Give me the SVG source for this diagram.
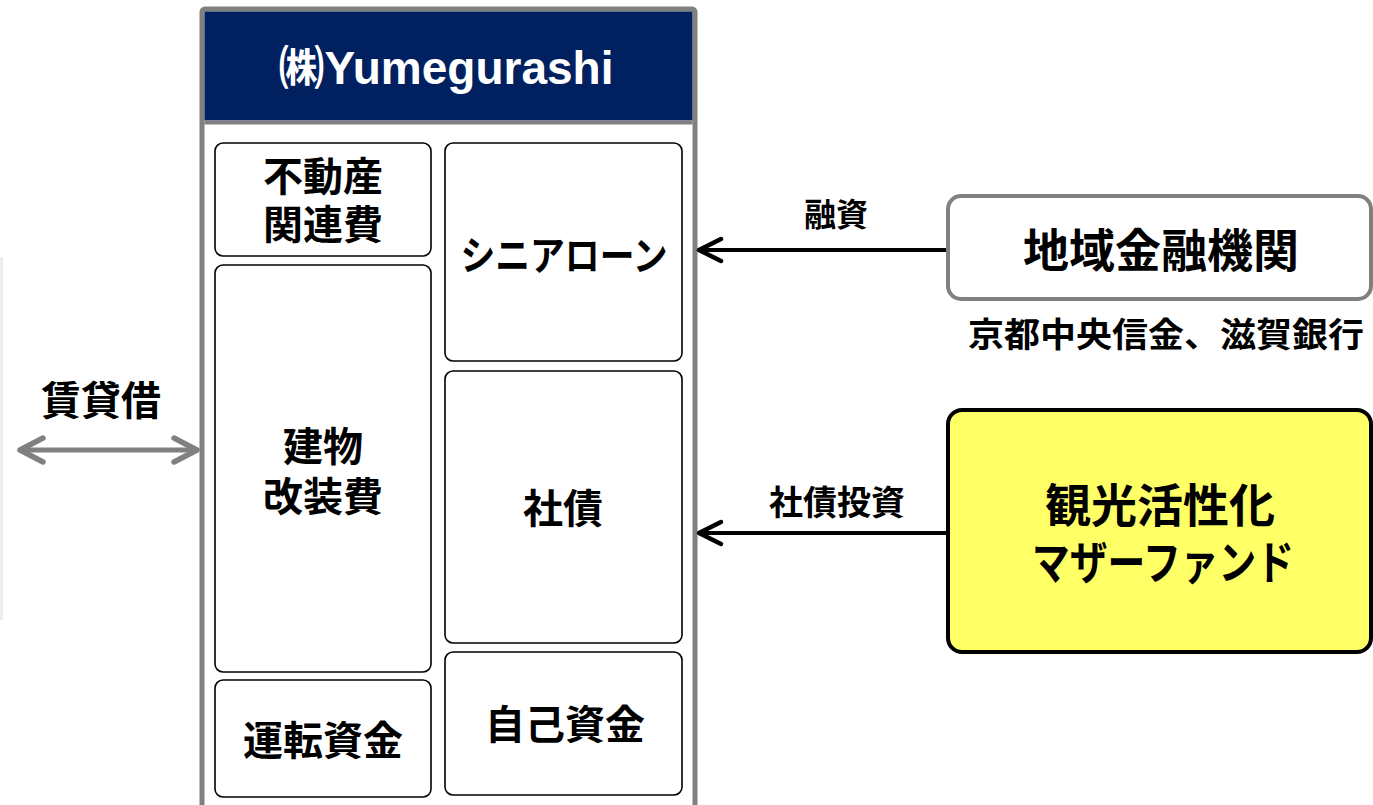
<svg xmlns="http://www.w3.org/2000/svg" width="1373" height="805" viewBox="0 0 1373 805">
  <style>
    .t { font-family: "Noto Sans CJK JP", "Liberation Sans", sans-serif; font-weight: 700; fill: #000; text-anchor: middle; }
    .box { fill: #fff; stroke: #000; stroke-width: 1.6; }
    .conn { stroke: #000; stroke-width: 4; fill: none; }
  </style>
  <defs>
    <marker id="ah" markerUnits="userSpaceOnUse" markerWidth="30" markerHeight="30" viewBox="0 0 30 30" refX="26" refY="15" orient="auto">
      <path d="M4,4 L26,15 L4,26" fill="none" stroke="#000" stroke-width="4.5" stroke-linecap="round" stroke-linejoin="round"/>
    </marker>
    <marker id="ahg" markerUnits="userSpaceOnUse" markerWidth="32" markerHeight="32" viewBox="0 0 32 32" refX="27" refY="16" orient="auto-start-reverse">
      <path d="M4,4 L27,16 L4,28" fill="none" stroke="#808080" stroke-width="5.5" stroke-linecap="round" stroke-linejoin="round"/>
    </marker>
  </defs>

  <rect width="1373" height="805" fill="#fff"/>

  <!-- faint edge of a cut-off shape at the left border -->
  <line x1="1.5" y1="257" x2="1.5" y2="620" stroke="#ececf2" stroke-width="3"/>

  <!-- company frame -->
  <g id="company">
    <rect x="202" y="9" width="493" height="820" rx="3" fill="#fff" stroke="#808080" stroke-width="5"/>
    <rect x="204.5" y="11.5" width="488" height="109" fill="#002060"/>
    <line x1="204.5" y1="122.5" x2="692.5" y2="122.5" stroke="#808080" stroke-width="4"/>
    <text x="446" y="84" font-family="Liberation Sans, Noto Sans CJK JP, sans-serif" font-weight="700" font-size="46" fill="#fff" text-anchor="middle" textLength="335" lengthAdjust="spacingAndGlyphs">㈱Yumegurashi</text>
  </g>

  <g id="fudosan">
    <rect class="box" x="215" y="143" width="216" height="113" rx="8"/>
    <text class="t" font-size="40"><tspan x="323" y="191">不動産</tspan><tspan x="323" y="239">関連費</tspan></text>
  </g>
  <g id="tatemono">
    <rect class="box" x="215" y="265" width="216" height="407" rx="8"/>
    <text class="t" font-size="40"><tspan x="323" y="461">建物</tspan><tspan x="323" y="511">改装費</tspan></text>
  </g>
  <g id="unten">
    <rect class="box" x="215" y="680" width="216" height="117" rx="8"/>
    <text class="t" x="323" y="755" font-size="40">運転資金</text>
  </g>
  <g id="senior">
    <rect class="box" x="445" y="143" width="237" height="218" rx="8"/>
    <text class="t" x="564" y="270" font-size="40" textLength="207" lengthAdjust="spacingAndGlyphs">シニアローン</text>
  </g>
  <g id="shasai">
    <rect class="box" x="445" y="371" width="237" height="272" rx="8"/>
    <text class="t" x="563" y="523" font-size="40">社債</text>
  </g>
  <g id="jiko">
    <rect class="box" x="445" y="652" width="237" height="143" rx="8"/>
    <text class="t" x="565" y="739" font-size="40">自己資金</text>
  </g>

  <g id="bank">
    <rect x="948" y="196" width="423" height="103" rx="13" fill="#fff" stroke="#808080" stroke-width="4"/>
    <text class="t" x="1161" y="267" font-size="46">地域金融機関</text>
    <text class="t" x="1166" y="347" font-size="34" textLength="396" lengthAdjust="spacingAndGlyphs">京都中央信金、滋賀銀行</text>
  </g>

  <g id="fund">
    <rect x="948" y="410" width="423" height="242" rx="14" fill="#ffff66" stroke="#000" stroke-width="4"/>
    <text class="t" font-size="46"><tspan x="1160" y="522">観光活性化</tspan><tspan x="1163" y="579" textLength="262" lengthAdjust="spacingAndGlyphs">マザーファンド</tspan></text>
  </g>

  <g id="connectors">
    <line class="conn" x1="946" y1="250" x2="699" y2="250" marker-end="url(#ah)"/>
    <text class="t" x="836" y="226" font-size="32">融資</text>
    <line class="conn" x1="946" y1="533" x2="699" y2="533" marker-end="url(#ah)"/>
    <text class="t" x="837" y="515" font-size="34">社債投資</text>
    <line x1="20" y1="450" x2="197" y2="450" stroke="#808080" stroke-width="5" marker-start="url(#ahg)" marker-end="url(#ahg)"/>
    <text class="t" x="101" y="415" font-size="40">賃貸借</text>
  </g>
</svg>
